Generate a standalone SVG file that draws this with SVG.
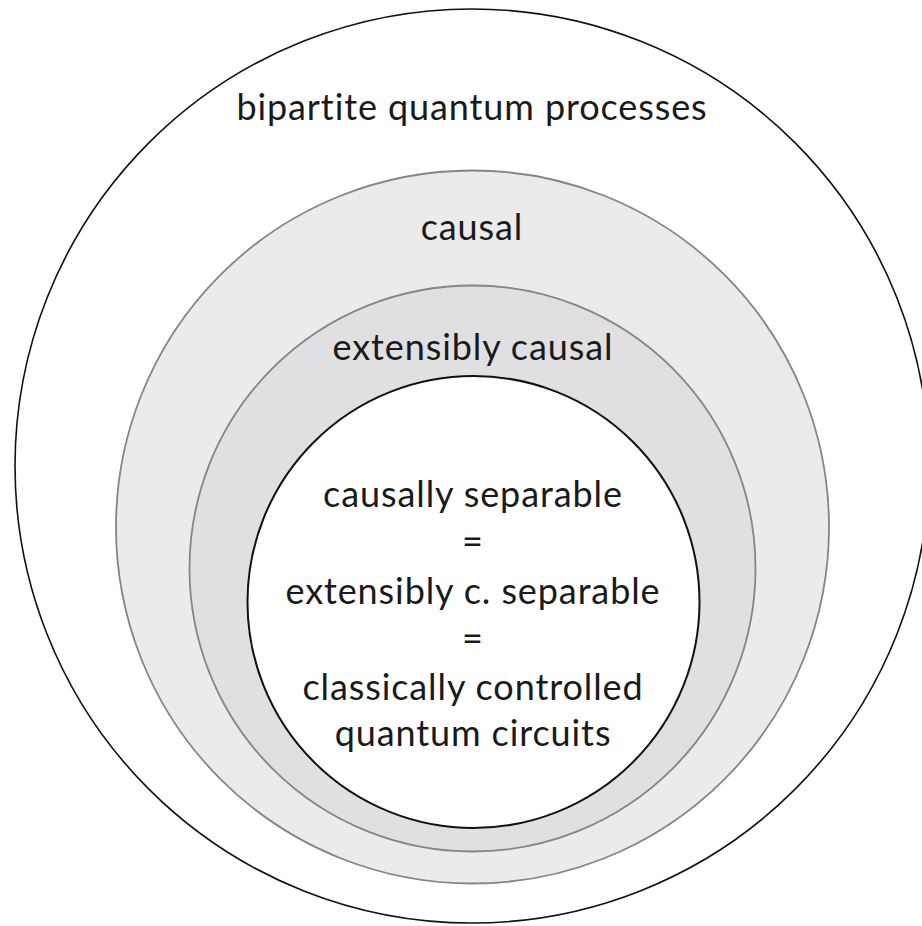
<svg xmlns="http://www.w3.org/2000/svg" width="922" height="926" viewBox="0 0 922 926">
  <style>
    .lbl { font-family: Lato, "Open Sans", "Liberation Sans", sans-serif; font-size: 36px; fill: #1a1a1a; text-anchor: middle; font-variant-ligatures: none; letter-spacing: 0.9px; }
  </style>
  <rect width="922" height="926" fill="#ffffff"/>
  <g id="bipartite">
    <circle cx="472" cy="466" r="457" fill="#ffffff" stroke="#111" stroke-width="1.6"/>
    <text class="lbl" x="472" y="120">bipartite quantum processes</text>
  </g>
  <g id="causal">
    <circle cx="472.5" cy="527" r="356.5" fill="#ebebec" stroke="#858585" stroke-width="1.8"/>
    <text class="lbl" x="472" y="240">causal</text>
  </g>
  <g id="extensibly-causal">
    <circle cx="472.5" cy="568.5" r="283" fill="#e0e0e3" stroke="#858585" stroke-width="1.8"/>
    <text class="lbl" x="473" y="360">extensibly causal</text>
  </g>
  <g id="causally-separable">
    <circle cx="473.5" cy="602" r="226" fill="#ffffff" stroke="#111" stroke-width="2"/>
    <text class="lbl" x="473" y="507">causally separable</text>
    <text class="lbl" x="473" y="554">=</text>
    <text class="lbl" x="473" y="604">extensibly c. separable</text>
    <text class="lbl" x="473" y="651">=</text>
    <text class="lbl" x="473" y="700">classically controlled</text>
    <text class="lbl" x="473" y="746">quantum circuits</text>
  </g>
  <g id="connectors"/>
</svg>
